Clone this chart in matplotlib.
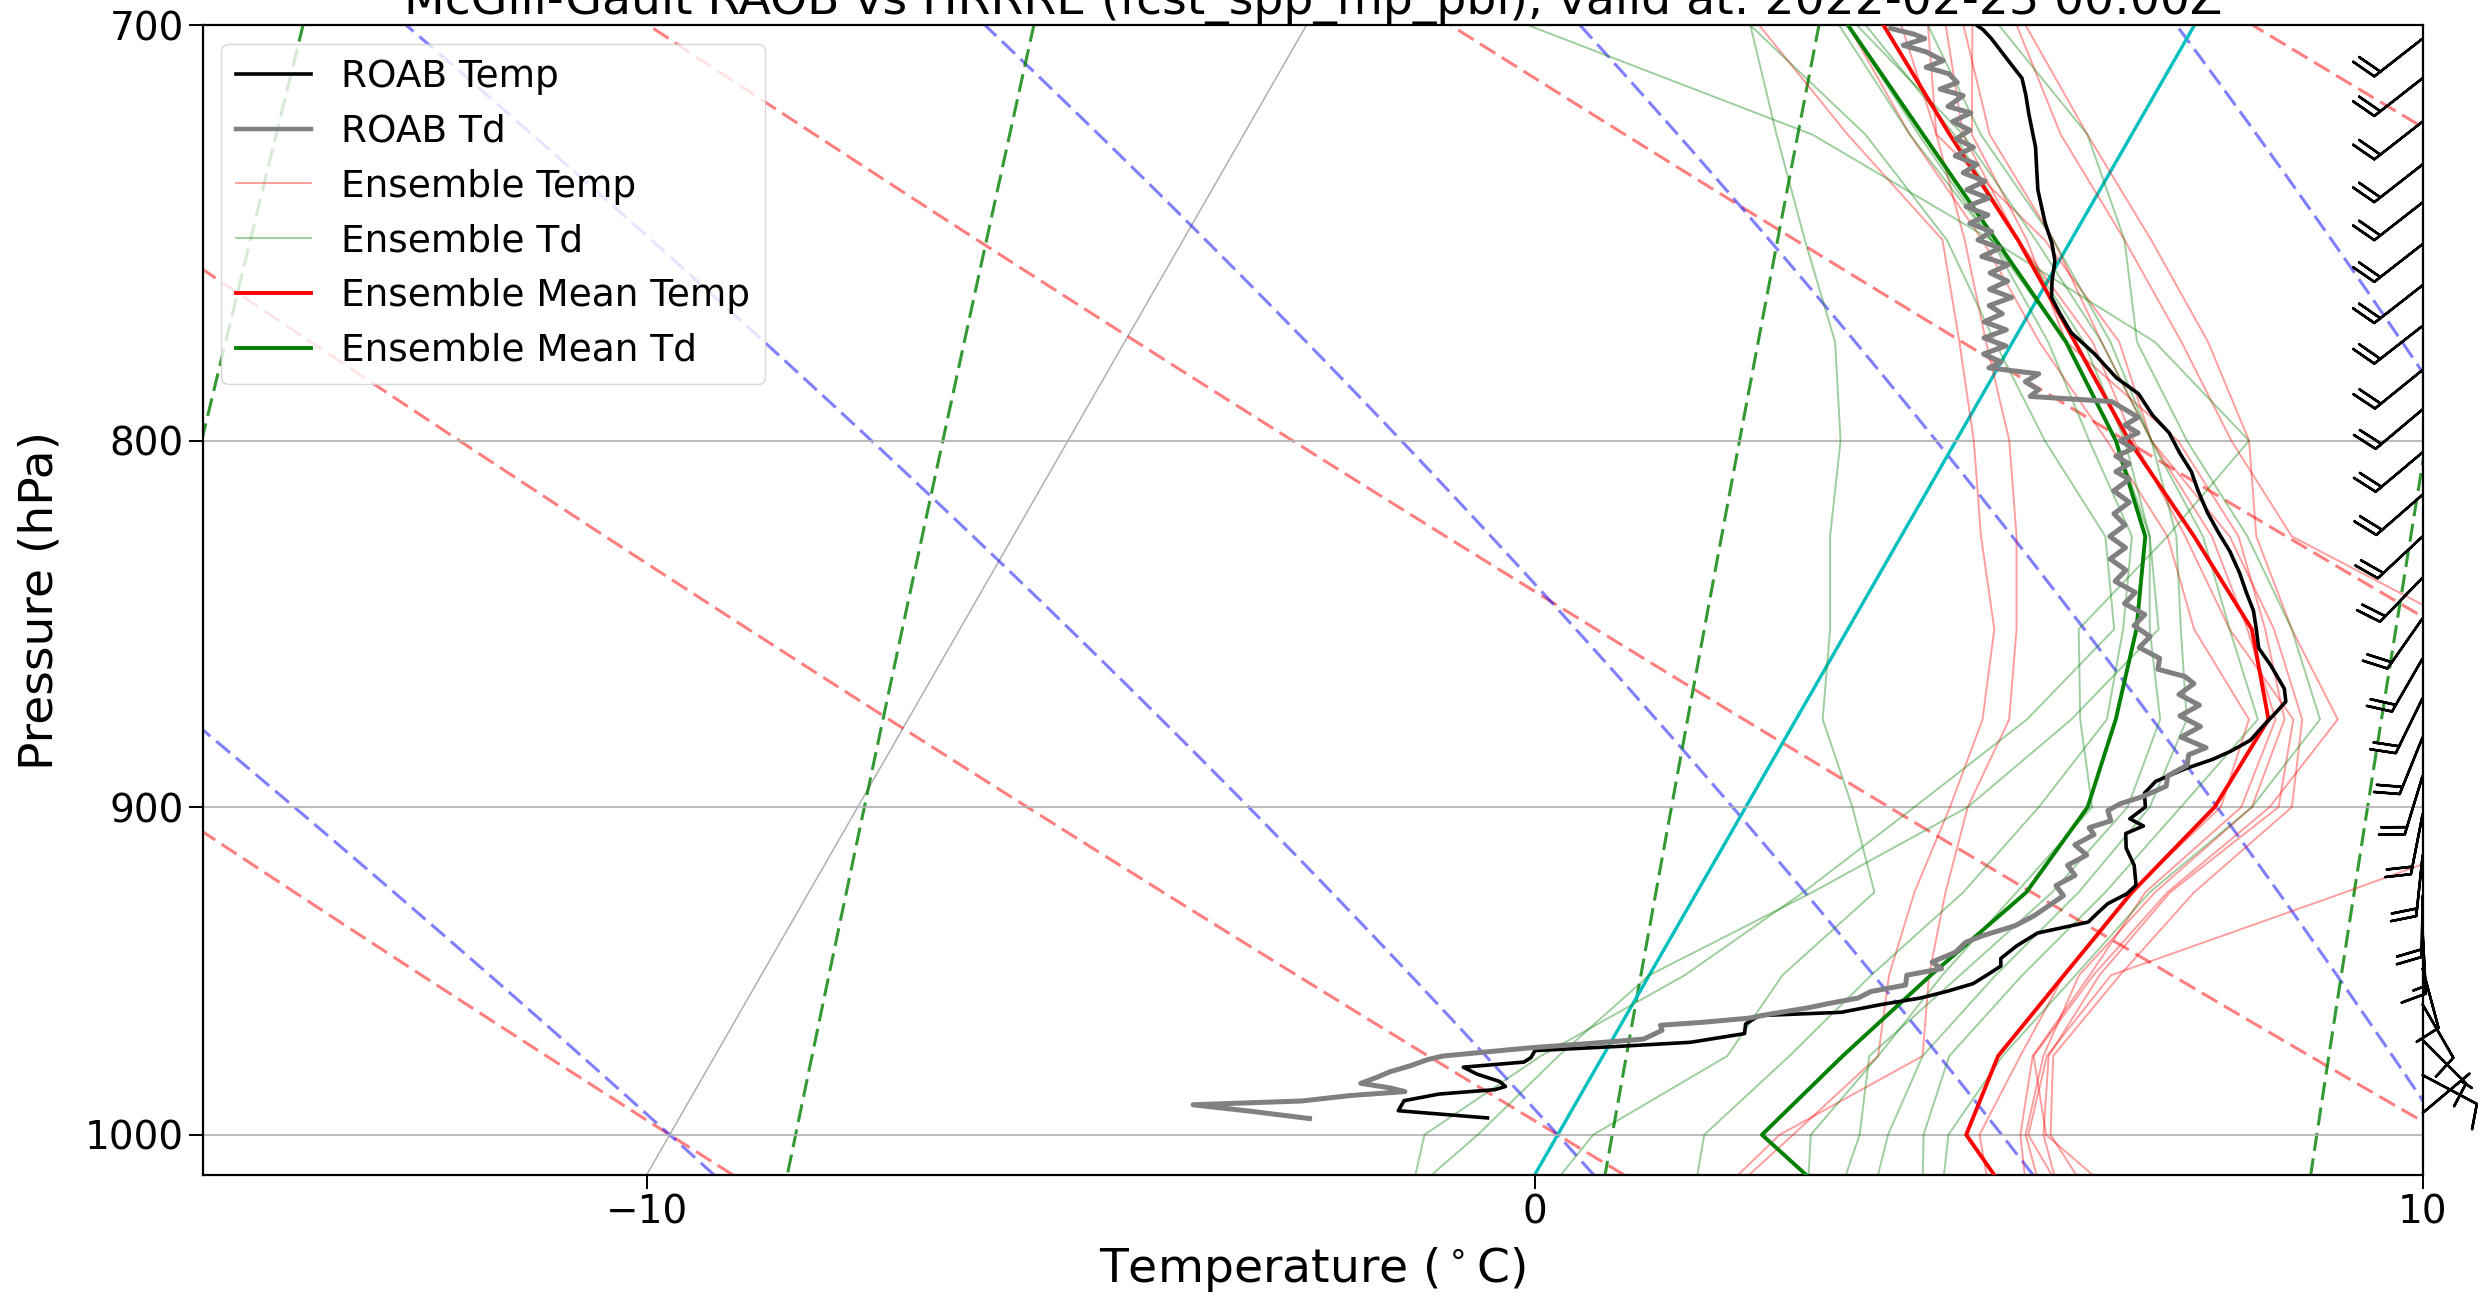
import numpy as np
import matplotlib
matplotlib.use("Agg")
import matplotlib.pyplot as plt
import matplotlib.transforms as mtransforms
from matplotlib.lines import Line2D
from matplotlib.ticker import NullLocator, ScalarFormatter

plt.rcParams['lines.scale_dashes'] = False

TITLE = "McGill-Gault RAOB vs HRRRE (fcst_spp_mp_pbl), valid at: 2022-02-23 00:00Z"

# ── RAOB temperature (hPa, degC) ───────────────────────────────────
raob_t_p = [700.0, 701, 703, 706, 709, 712, 715.8, 720, 724, 728,
            733, 738, 742, 746, 750.7, 755, 760, 764, 768, 772.7,
            778, 784, 788, 793.5, 798, 803.2, 808, 813, 818.8, 824,
            829, 834.8, 840, 845, 850, 855.2, 860, 866.4, 870, 873.7,
            877, 880.9, 884, 886.3, 889, 892.6, 896, 900, 903.4, 905.5,
            907.7, 912, 917, 922.9, 925.5, 928.4, 931, 933.9, 937.2, 941,
            944.9, 947.2, 950, 952.6, 955, 957, 959, 961.4, 962.4, 965,
            968, 970.7, 972, 973.3, 975.5, 976.9, 978.5, 980.7, 983, 984.6,
            985.6, 987, 989.1, 992.3, 994.6]
raob_t = [-2.45, -2.35, -2.2, -2.0, -1.8, -1.6, -1.45, -1.3, -1.15, -1.0,
          -0.85, -0.7, -0.55, -0.4, -0.2, -0.05, 0.05, 0.15, 0.35, 0.6,
          1.0, 1.4, 1.75, 2.05, 2.35, 2.6, 2.85, 3.05, 3.3, 3.55,
          3.8, 4.05, 4.25, 4.45, 4.6, 4.75, 5.0, 5.3, 5.4, 5.35,
          5.3, 5.25, 5.1, 4.95, 4.7, 4.45, 4.4, 4.5, 4.4, 4.6,
          4.45, 4.55, 4.75, 4.9, 4.85, 4.7, 4.65, 4.6, 4.1, 3.95,
          3.85, 3.9, 3.8, 3.7, 3.45, 3.2, 2.8, 2.4, 1.5, 1.4,
          1.45, 0.9, 0.1, -0.8, -0.8, -0.85, -1.5, -1.3, -1.0, -0.9,
          -1.0, -1.6, -1.95, -1.95, -0.9]

# ── RAOB dewpoint (hPa, degC) ──────────────────────────────────────
raob_td_p = [700.7, 702, 703, 704.5, 706, 708, 709.5, 711, 713, 714.5,
             716, 718.5, 720, 722, 724, 726, 728, 730, 732, 734,
             736, 738, 740, 742, 744, 746, 748, 750, 752, 754,
             756, 758, 760, 762, 764, 766, 768, 770, 772, 774,
             776, 778, 780, 781.5, 783, 785, 787, 788.7, 790, 792,
             794, 796, 798, 800, 802, 804, 806, 808, 810, 813,
             816, 819, 822, 825, 828, 831, 834, 837, 840, 843,
             846, 849, 852, 855, 858, 861, 863, 865, 868, 871,
             874, 877, 880, 883, 885, 888, 891, 894, 897, 899,
             901, 904, 906, 908, 911, 914, 917, 920, 923, 926,
             929, 932, 935, 938, 940, 943, 946, 948, 950, 953,
             955, 957, 958.7, 960, 962, 963.2, 964.5, 965.4, 967, 969.7,
             971, 972.5, 975, 976.1, 978, 980, 981.6, 983.6, 985, 986.2,
             987.5, 989.2, 990.4, 992.5, 994.8]
raob_td = [-3.4, -3.1, -2.95, -3.15, -2.85, -2.6, -2.75, -2.45, -2.3, -2.45,
           -2.15, -2.25, -1.95, -2.1, -1.85, -1.95, -1.7, -1.85, -1.55, -1.65,
           -1.35, -1.5, -1.2, -1.4, -1.1, -1.25, -0.95, -1.05, -0.75, -0.9,
           -0.55, -0.7, -0.45, -0.6, -0.3, -0.5, -0.3, -0.45, -0.15, -0.35,
           -0.05, -0.25, 0.0, -0.1, 0.5, 0.4, 0.6, 0.55, 1.5, 1.7,
           1.9, 1.8, 2.0, 1.85, 2.05, 1.9, 2.1, 2.0, 2.2, 2.1,
           2.35, 2.25, 2.45, 2.35, 2.6, 2.5, 2.75, 2.7, 3.0, 2.95,
           3.25, 3.2, 3.45, 3.4, 3.7, 3.75, 4.1, 4.25, 4.15, 4.45,
           4.3, 4.6, 4.45, 4.8, 4.65, 4.7, 4.55, 4.6, 4.4, 4.2,
           4.1, 4.2, 4.0, 4.1, 3.95, 4.15, 4.0, 4.15, 4.0, 4.15,
           4.05, 3.95, 3.8, 3.5, 3.35, 3.3, 3.1, 3.25, 2.9, 2.95,
           2.6, 2.5, 2.2, 2.0, 1.6, 1.4, 0.9, 0.45, 0.5, 0.35,
           -0.2, -0.9, -1.8, -1.95, -2.1, -2.3, -2.4, -2.55, -2.2, -2.0,
           -2.6, -3.1, -4.3, -3.6, -2.9]

# ── HRRRE ensemble on isobaric levels (hPa) ────────────────────────
ens_p = [1025, 1000, 975, 950, 925, 900, 875, 850, 825, 800, 775, 750, 725, 700]

ens_t1 = [2.2, 2.65, 3.1, 2.7, 2.45, 2.3, 2.1, 1.65, 0.9, 0.2, -0.6, -1.45, -3.2, -4.9]
ens_t2 = [2.1, 2.5, 3.6, 3.15, 2.8, 2.5, 2.4, 1.9, 1.3, 0.6, -0.3, -1.2, -2.2, -3.0]
ens_t3 = [6.3, 5.3, 5.0, 5.2, 7.3, 9.4, 8.6, 7.0, 4.4, 3.1, 1.9, 0.6, -0.8, -2.0]
ens_t4 = [7.0, 5.5, 4.85, 5.0, 5.3, 5.9, 6.1, 5.0, 4.0, 3.3, 2.2, 0.9, -0.5, -1.9]
ens_t5 = [6.6, 5.55, 5.07, 5.3, 5.6, 6.15, 5.7, 4.8, 3.7, 2.2, 1.0, -0.2, -1.6, -2.6]
ens_t6 = [6.0, 5.27, 4.96, 4.84, 5.16, 5.7, 5.5, 4.7, 3.8, 2.5, 0.6, -0.5, -1.8, -2.5]
ens_t7 = [5.8, 5.21, 4.84, 4.96, 5.05, 5.58, 5.4, 4.5, 3.5, 2.2, 1.2, -0.3, -2.2, -3.3]
ens_t8 = [5.4, 4.75, 4.70, 4.67, 4.88, 5.35, 5.1, 3.9, 3.0, 1.7, 0.3, -1.0, -2.5, -3.9]
ens_t9 = [6.2, 5.47, 5.02, 5.07, 5.33, 6.0, 5.6, 4.3, 3.2, 2.0, 0.9, -0.6, -1.9, -2.8]

ens_td1 = [-1.2, -1.5, -0.7, 0.4, 1.2, 1.9, 2.6, 3.0, 2.3, 1.0, -0.2, -1.4, -3.0, -5.0]
ens_td2 = [-1.4, -0.9, -0.5, 0.0, 1.3, 2.5, 3.1, 3.5, 2.8, 1.8, 0.6, -0.9, -2.5, -4.0]
ens_td3 = [3.3, 2.85, 3.1, 3.3, 3.6, 3.9, 3.2, 2.6, 3.0, 3.3, 1.6, -0.9, -3.6, -7.5]
ens_td4 = [2.0, 1.65, 2.1, 2.5, 3.0, 3.3, 3.5, 3.1, 2.6, 1.5, 0.4, -0.9, -2.4, -3.9]
ens_td5 = [3.6, 3.4, 3.0, 3.5, 4.0, 4.3, 4.1, 3.4, 2.8, 1.9, 0.8, -0.6, -2.0, -3.7]
ens_td6 = [4.0, 3.72, 3.6, 3.9, 4.3, 4.55, 4.4, 3.75, 3.1, 2.2, 1.1, -0.2, -1.7, -3.0]
ens_td7 = [4.6, 4.12, 3.9, 4.2, 4.6, 4.9, 5.2, 4.3, 3.4, 2.2, 1.0, -0.4, -1.9, -3.8]
ens_td8 = [4.8, 4.4, 4.5, 4.8, 5.1, 5.7, 5.9, 5.0, 3.9, 2.6, 1.4, 0.6, -0.5, -2.2]
ens_td9 = [0.2, 0.4, 1.4, 1.5, 2.0, 1.2, 0.3, -0.2, -0.8, -1.3, -2.0, -3.0, -4.0, -5.0]

ens_mean_t = [5.7, 4.6, 4.45, 4.67, 4.9, 5.28, 5.32, 4.55, 3.3, 1.95, 0.7, -0.6, -2.05, -3.5]
ens_mean_td = [3.75, 2.3, 2.7, 3.17, 3.71, 3.85, 3.6, 3.25, 2.75, 1.8, 0.6, -0.85, -2.35, -3.9]

# ── RAOB winds (hPa, deg, kt) ──────────────────────────────────────
barb_p = [703, 712, 722, 732, 741, 751, 761, 771, 782, 792,
          803, 814, 825, 836, 847, 858, 869, 880, 891, 902,
          914, 926, 937, 948, 959, 970, 981, 993]
barb_dir = [232, 232, 232, 232, 232, 232, 232, 232, 231, 230,
            230, 229, 227, 224, 215, 210, 206, 202, 197, 191,
            186, 181, 177, 165, 150, 135, 118, 50]
barb_spd = [20, 20, 20, 20, 20, 20, 20, 20, 20, 20,
            20, 20, 20, 20, 20, 20, 20, 20, 20, 20,
            20, 20, 15, 10, 10, 10, 10, 5]

# ── background lines (MetPy style) ─────────────────────────────────
dry_t0 = [-40, -30, -20, -10, 0, 10, 20, 30, 40, 50]
moist_t0 = [-40, -30, -20, -10, 0, 5, 10, 15, 20, 25, 30, 35, 40, 45, 50]
mix_w = [0.0004, 0.001, 0.002, 0.004, 0.007, 0.01, 0.016, 0.024, 0.032]

RD, CP, LV, EPS = 287.04, 1005.7, 2.501e6, 0.622
P_BOT, P_TOP = 1013, 700


def dtdp_moist(T, p):
    es = 6.112 * np.exp(17.67 * (T - 273.15) / (T - 29.65))
    rs = EPS * es / (p - es)
    return (RD * T + LV * rs) / (CP + LV * LV * rs * EPS / (RD * T * T)) / p


def moist_curve(t0, p_path):
    T = np.empty(len(p_path))
    T[0] = t0 + 273.15
    for i in range(1, len(p_path)):
        h = p_path[i] - p_path[i - 1]
        p, y = p_path[i - 1], T[i - 1]
        k1 = dtdp_moist(y, p)
        k2 = dtdp_moist(y + h / 2 * k1, p + h / 2)
        k3 = dtdp_moist(y + h / 2 * k2, p + h / 2)
        k4 = dtdp_moist(y + h * k3, p + h)
        T[i] = y + h / 6 * (k1 + 2 * k2 + 2 * k3 + k4)
    return T - 273.15


fig = plt.figure(figsize=(24.83, 12.98), dpi=100)
ax = fig.add_axes([0.0816, 0.0948, 0.8941, 0.8857])
ax.set_yscale('log')
ax.set_xlim(-15, 10)
ax.set_ylim(P_BOT, P_TOP)
ax.set_autoscale_on(False)

# skew: isotherms lean ~30 deg from vertical on screen
box = ax.get_position()
fw, fh = fig.get_size_inches()
shear = np.tan(np.radians(29.85)) * (box.height * fh) / (box.width * fw)
skew_tr = (ax.transScale + ax.transLimits
           + mtransforms.Affine2D().skew(np.arctan(shear), 0) + ax.transAxes)

DASH = (0, (13, 5.5))

# dry adiabats
p_bg = np.linspace(P_BOT, P_TOP, 60)
for th in dry_t0:
    t = (th + 273.15) * (p_bg / 1000.) ** (RD / CP) - 273.15
    ax.plot(t, p_bg, transform=skew_tr, color='r', ls=DASH, lw=2.2, alpha=0.5, zorder=1)

# moist adiabats
p_up = np.linspace(1000, P_TOP, 61)
p_dn = np.linspace(1000, P_BOT, 6)
for t0 in moist_t0:
    up = moist_curve(t0, p_up)
    dn = moist_curve(t0, p_dn)
    ax.plot(np.concatenate([dn[::-1], up[1:]]), np.concatenate([p_dn[::-1], p_up[1:]]),
            transform=skew_tr, color='b', ls=DASH, lw=2.2, alpha=0.5, zorder=1)

# mixing ratio lines
p_mix = np.linspace(600, P_BOT, 60)
for w in mix_w:
    e = p_mix * w / (EPS + w)
    a = np.log(e / 6.112)
    td = 243.5 * a / (17.67 - a)
    ax.plot(td, p_mix, transform=skew_tr, color='g', ls=DASH, lw=2.2, alpha=0.8, zorder=1)

# skewed isotherm grid + 0C line
for t in [-10, 0, 10]:
    ax.plot([t, t], [P_BOT, P_TOP], transform=skew_tr, color='#b0b0b0', lw=1.1, zorder=0.5)
ax.plot([0, 0], [P_BOT, P_TOP], transform=skew_tr, color='c', lw=2.4, zorder=1.5)
ax.yaxis.grid(True, color='#b0b0b0', lw=1.2)

# ensemble members
for m in [ens_t1, ens_t2, ens_t3, ens_t4, ens_t5, ens_t6, ens_t7, ens_t8, ens_t9]:
    ax.plot(m, ens_p, transform=skew_tr, color='r', lw=1.4, alpha=0.38, zorder=2)
for m in [ens_td1, ens_td2, ens_td3, ens_td4, ens_td5, ens_td6, ens_td7, ens_td8, ens_td9]:
    ax.plot(m, ens_p, transform=skew_tr, color='g', lw=1.4, alpha=0.38, zorder=2)
ax.plot(ens_mean_t, ens_p, transform=skew_tr, color='r', lw=2.8, zorder=3)
ax.plot(ens_mean_td, ens_p, transform=skew_tr, color='g', lw=2.8, zorder=3)

# sounding
ax.plot(raob_t, raob_t_p, transform=skew_tr, color='k', lw=2.6, zorder=4)
ax.plot(raob_td, raob_td_p, transform=skew_tr, color='gray', lw=3.6, zorder=4)

# wind barbs along the right edge
wd = np.radians(barb_dir)
u = -np.array(barb_spd) * np.sin(wd)
v = -np.array(barb_spd) * np.cos(wd)
ax.barbs(np.ones(len(barb_p)), barb_p, u, v, transform=ax.get_yaxis_transform(),
         length=9.4, lw=1.8, color='k', clip_on=False, zorder=5)

ax.set_xlim(-15, 10)
ax.set_ylim(P_BOT, P_TOP)
ax.set_yticks([700, 800, 900, 1000])
ax.yaxis.set_major_formatter(ScalarFormatter())
ax.yaxis.set_minor_locator(NullLocator())
ax.set_xticks([-10, 0, 10])
ax.tick_params(labelsize=28, length=10, width=1.4)
for s in ax.spines.values():
    s.set_linewidth(1.6)

ax.set_xlabel('Temperature ($^\\circ$C)', fontsize=34)
ax.xaxis.label.set_va('bottom')
ax.xaxis.set_label_coords(box.x0 + box.width / 2, 0.003, transform=fig.transFigure)
ax.set_ylabel('Pressure (hPa)', fontsize=34, labelpad=16)
ax.set_title(TITLE, fontsize=34, pad=0)

handles = [Line2D([], [], color='k', lw=2.6),
           Line2D([], [], color='gray', lw=3.2),
           Line2D([], [], color='r', lw=1.4, alpha=0.38),
           Line2D([], [], color='g', lw=1.4, alpha=0.38),
           Line2D([], [], color='r', lw=2.8),
           Line2D([], [], color='g', lw=2.8)]
labels = ['ROAB Temp', 'ROAB Td', 'Ensemble Temp', 'Ensemble Td',
          'Ensemble Mean Temp', 'Ensemble Mean Td']
ax.legend(handles, labels, loc='upper left', fontsize=27)

fig.savefig('out.png', dpi=100)
